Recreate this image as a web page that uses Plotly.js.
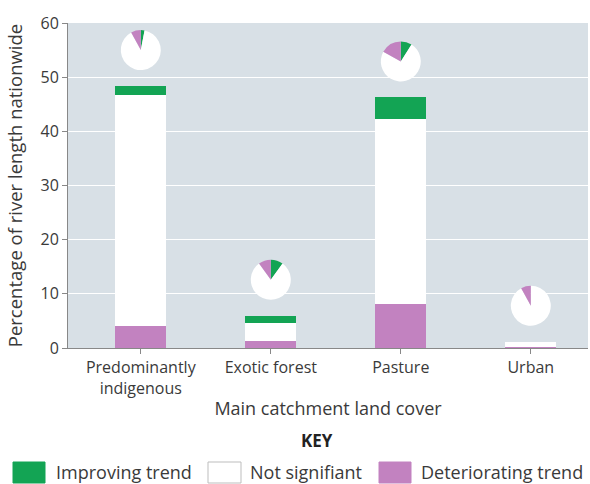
<!DOCTYPE html>
<html>
<head>
<meta charset="utf-8">
<script src="https://cdn.plot.ly/plotly-3.0.1.min.js"></script>
<style>html,body{margin:0;padding:0;background:#fff;}#chart{width:590px;height:484px;}</style>
</head>
<body>
<div id="chart"></div>
<script>
// ---- data ----
var categories = ['Predominantly<br>indigenous', 'Exotic forest', 'Pasture', 'Urban'];
var deteriorating = [4.0, 1.3, 8.1, 0.1];
var notSignificant = [42.8, 3.3, 34.2, 1.1];
var improving = [1.6, 1.4, 4.0, 0.0];
// pie shares (% of each land-cover class) as drawn in the small pies
var pieImproving = [3, 10, 9, 0];
var pieNotSignificant = [89, 80, 74, 92];
var pieDeteriorating = [8, 10, 17, 8];
var yTicks = [0, 10, 20, 30, 40, 50, 60];
var seriesNames = ['Improving trend', 'Not signifiant', 'Deteriorating trend'];

// ---- styling / layout ----
var GREEN = '#13a454', PURPLE = '#c282c0', WHITE = '#ffffff', BG = '#d8e0e6';
var W = 590, H = 484, ML = 68, MR = 2, MT = 23, MB = 136;
var PW = W - ML - MR, PH = H - MT - MB;
var XR = [-0.56, 3.44], YR = [0, 60];
function px2x(px) { return (px - ML) / PW; }
function px2y(py) { return (H - MB - py) / PH; }
function d2x(v) { return (v - XR[0]) / (XR[1] - XR[0]); }
function d2y(v) { return (v - YR[0]) / (YR[1] - YR[0]); }

var xIdx = categories.map(function (c, i) { return i; });
var font = 'Open Sans, sans-serif';
var textColor = '#3a3a3a';

var traces = [
  {type: 'bar', x: xIdx, y: deteriorating, name: seriesNames[2], marker: {color: PURPLE}, width: 0.39, showlegend: false, hoverinfo: 'y'},
  {type: 'bar', x: xIdx, y: notSignificant, name: seriesNames[1], marker: {color: WHITE}, width: 0.39, showlegend: false, hoverinfo: 'y'},
  {type: 'bar', x: xIdx, y: improving, name: seriesNames[0], marker: {color: GREEN}, width: 0.39, showlegend: false, hoverinfo: 'y'}
];

// small pies above each bar
var rX = 20 / PW, rY = 20 / PH;
categories.forEach(function (c, i) {
  var total = deteriorating[i] + notSignificant[i] + improving[i];
  var cx = d2x(i), cy = d2y(total + 6.6);
  traces.push({
    type: 'pie',
    values: [pieImproving[i], pieNotSignificant[i], pieDeteriorating[i]],
    labels: seriesNames,
    marker: {colors: [GREEN, WHITE, PURPLE], line: {width: 0}},
    sort: false, direction: 'clockwise', rotation: 0,
    textinfo: 'none', hoverinfo: 'label+percent', showlegend: false,
    domain: {x: [cx - rX, cx + rX], y: [cy - rY, cy + rY]}
  });
});

// custom key
var shapes = [], annotations = [];
var keyItems = [
  {x0: 13, x1: 45, color: GREEN, line: GREEN, tx: 54},
  {x0: 208, x1: 241, color: WHITE, line: '#bdbdbd', tx: 248},
  {x0: 379, x1: 411, color: PURPLE, line: PURPLE, tx: 419}
];
keyItems.forEach(function (k, i) {
  shapes.push({type: 'rect', xref: 'paper', yref: 'paper',
    x0: px2x(k.x0), x1: px2x(k.x1), y0: px2y(483), y1: px2y(462),
    fillcolor: k.color, line: {color: k.line, width: 1}});
  annotations.push({xref: 'paper', yref: 'paper', x: px2x(k.tx), y: px2y(472),
    xanchor: 'left', yanchor: 'middle', showarrow: false, text: seriesNames[i],
    font: {family: font, size: 18, color: textColor}});
});
annotations.push({xref: 'paper', yref: 'paper', x: px2x(317), y: px2y(440),
  xanchor: 'center', yanchor: 'middle', showarrow: false, text: '<b>KEY</b>',
  font: {family: font, size: 17, color: '#222'}});

var layout = {
  width: W, height: H,
  margin: {l: ML, r: MR, t: MT, b: MB},
  paper_bgcolor: '#ffffff', plot_bgcolor: BG,
  barmode: 'stack',
  font: {family: font, size: 16, color: textColor},
  xaxis: {
    range: XR, tickmode: 'array', tickvals: xIdx, ticktext: categories,
    tickson: 'boundaries', ticks: 'outside', ticklen: 5, tickcolor: '#888',
    showline: true, linecolor: '#888', linewidth: 1, showgrid: false, zeroline: false,
    tickfont: {family: font, size: 16, color: textColor},
    title: {text: 'Main catchment land cover', font: {family: font, size: 18, color: textColor}, standoff: 4},
    automargin: false, fixedrange: true
  },
  yaxis: {
    range: YR, tickmode: 'array', tickvals: yTicks,
    ticks: 'outside', ticklen: 5, tickcolor: '#888',
    showline: true, linecolor: '#888', linewidth: 1,
    showgrid: true, gridcolor: '#ffffff', gridwidth: 1, zeroline: false,
    tickfont: {family: font, size: 16, color: textColor},
    title: {text: 'Percentage of river length nationwide', font: {family: font, size: 18.5, color: textColor}, standoff: 13},
    automargin: false, fixedrange: true
  },
  shapes: shapes, annotations: annotations,
  showlegend: false
};

Plotly.newPlot('chart', traces, layout, {displayModeBar: false, staticPlot: true});
</script>
</body>
</html>
